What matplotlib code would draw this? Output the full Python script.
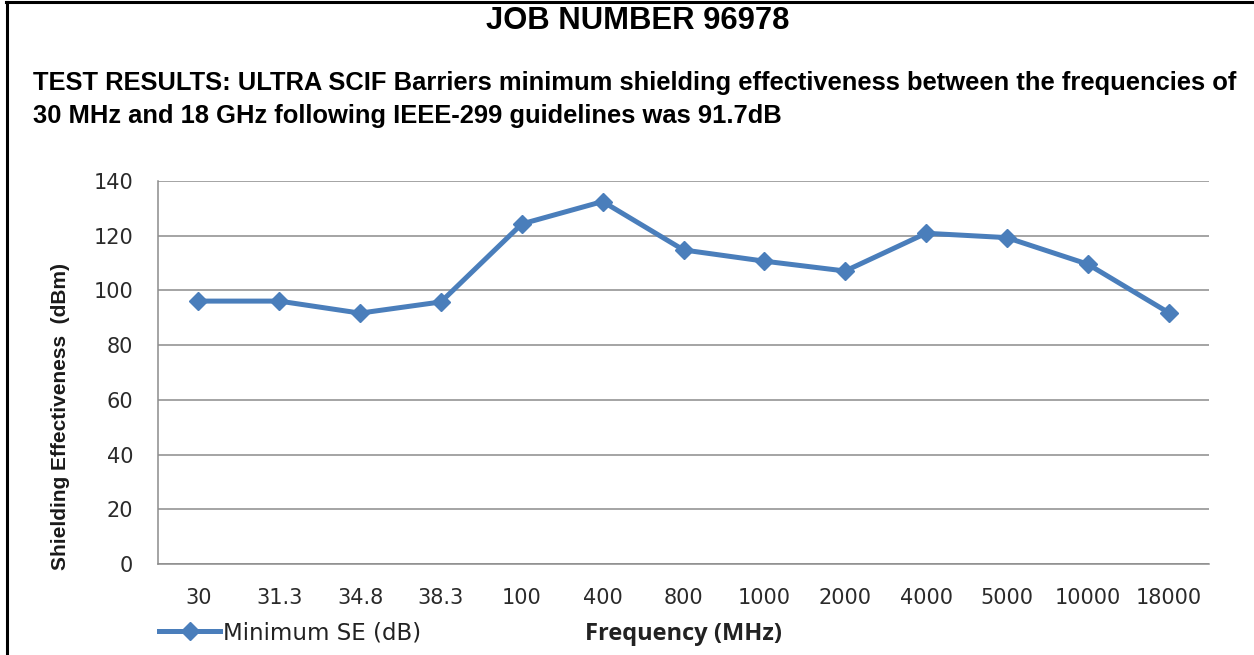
import matplotlib
matplotlib.use("Agg")
import matplotlib.pyplot as plt
from matplotlib.lines import Line2D

frequencies = ["30", "31.3", "34.8", "38.3", "100", "400", "800", "1000",
               "2000", "4000", "5000", "10000", "18000"]
min_se = [96.1, 96.1, 91.7, 95.8, 124.3, 132.5, 114.8, 110.7,
          107.1, 120.9, 119.3, 109.6, 91.9]
yticks = [0, 20, 40, 60, 80, 100, 120, 140]

W, H = 1254, 655
fig = plt.figure(figsize=(W / 100, H / 100), dpi=100)
fig.patch.set_facecolor("white")

def fx(px):
    return px / W

def fy(py):
    return 1 - py / H

ax = fig.add_axes([fx(158), fy(564), fx(1209) - fx(158), fy(181) - fy(564)])
blue = "#4a7ebb"
x = list(range(len(frequencies)))
ax.plot(x, min_se, color=blue, lw=3.6, marker="D", markersize=9,
        markeredgecolor=blue, markerfacecolor=blue, solid_joinstyle="round", zorder=3)
ax.set_xlim(-0.5, len(frequencies) - 0.5)
ax.set_ylim(0, 140)
ax.set_yticks(yticks)
ax.set_xticks(x)
ax.set_xticklabels(frequencies)
ax.yaxis.grid(True, color="#8c8c8c", lw=1.1)
ax.set_axisbelow(True)
for s in ["top", "right"]:
    ax.spines[s].set_visible(False)
for s in ["left", "bottom"]:
    ax.spines[s].set_color("#8c8c8c")
    ax.spines[s].set_linewidth(1.1)
ax.tick_params(axis="both", length=0, labelsize=15, colors="#2a2a2a")
ax.tick_params(axis="y", pad=18)
ax.tick_params(axis="x", pad=17)
for lab in ax.get_xticklabels() + ax.get_yticklabels():
    lab.set_family("DejaVu Sans")

arial = ["Liberation Sans", "DejaVu Sans"]
fig.text(fx(638), fy(21), "JOB NUMBER 96978", ha="center", va="center",
         fontsize=22.3, fontweight="bold", family=arial)
fig.text(fx(33), fy(83), "TEST RESULTS: ULTRA SCIF Barriers minimum shielding effectiveness between the frequencies of",
         ha="left", va="center", fontsize=18.35, fontweight="bold", family=arial)
fig.text(fx(33), fy(116), "30 MHz and 18 GHz following IEEE-299 guidelines was 91.7dB",
         ha="left", va="center", fontsize=18.35, fontweight="bold", family=arial)

fig.text(fx(61), fy(417), "Shielding Effectiveness  (dBm)", rotation=90, ha="center", va="center",
         fontsize=15, fontweight="heavy", family=arial, color="#1a1a1a")
fig.text(fx(683), fy(634), "Frequency (MHz)", ha="center", va="center",
         fontsize=17, fontweight="bold", family=["Open Sans", "DejaVu Sans"], color="#222222")

# legend
leg_handle = Line2D([0], [0], color=blue, lw=3.6, marker="D", markersize=9,
                    markeredgecolor=blue, markerfacecolor=blue)
fig.legend([leg_handle], ["Minimum SE (dB)"], loc="center left",
           bbox_to_anchor=(fx(150), fy(633)), frameon=False,
           handlelength=2.65, handletextpad=0.12, borderaxespad=0,
           prop={"family": "DejaVu Sans", "size": 16.5})
for t in fig.legends[0].get_texts():
    t.set_color("#222222")

# border lines
fig.add_artist(Line2D([fx(6.5), fx(6.5)], [0, fy(2)], color="black", lw=2.2, transform=fig.transFigure))
fig.add_artist(Line2D([fx(5.5), 1], [fy(2), fy(2)], color="black", lw=2.2, transform=fig.transFigure))

fig.savefig("out.png", dpi=100, facecolor="white")
